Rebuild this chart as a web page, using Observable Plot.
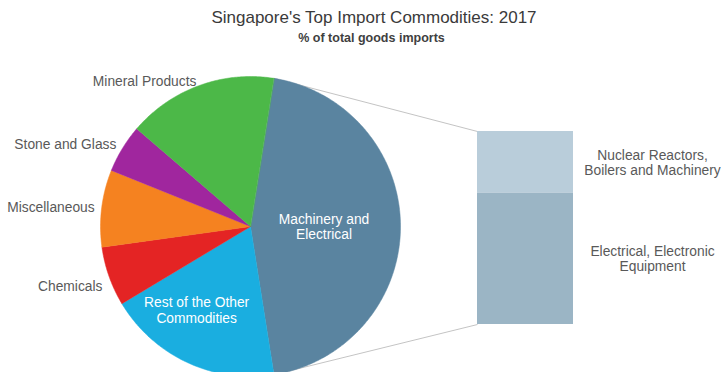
<!DOCTYPE html>
<html>
<head>
<meta charset="utf-8">
<script src="https://cdn.jsdelivr.net/npm/d3@7"></script>
<script src="https://cdn.jsdelivr.net/npm/@observablehq/plot@0.6"></script>
<style>
  html, body { margin: 0; padding: 0; background: #fff; overflow: hidden; }
  #wrap { width: 721px; height: 372px; position: relative; font-family: "Liberation Sans", Arial, sans-serif; }
  #title { position: absolute; left: 0; top: 8px; width: 748px; text-align: center; font-size: 17px; color: #3a3a3a; line-height: 20px; }
  #subtitle { position: absolute; left: 0; top: 31px; width: 743px; text-align: center; font-size: 12.5px; font-weight: bold; color: #3f3f3f; line-height: 15px; }
  #chart { position: absolute; left: 0; top: 50px; }
  #chart svg { overflow: visible; }
</style>
</head>
<body>
<div id="wrap">
  <div id="title">Singapore's Top Import Commodities: 2017</div>
  <div id="subtitle">% of total goods imports</div>
  <div id="chart"></div>
</div>
<script>
// ---- data (percent of total goods imports) ----
const pieCategories = ["Machinery and Electrical", "Rest of the Other Commodities", "Chemicals", "Miscellaneous", "Stone and Glass", "Mineral Products"];
const pieValues = [45.0, 18.9, 6.4, 8.3, 5.2, 16.2];
const pieColors = ["#5a84a0", "#1aaee0", "#e42424", "#f58220", "#a0269e", "#4cb848"];
const barCategories = ["Nuclear Reactors, Boilers and Machinery", "Electrical, Electronic Equipment"];
const barValues = [14.4, 30.6];
const barColors = ["#b9cdda", "#9bb5c5"];
const barLabels = ["Nuclear Reactors,\nBoilers and Machinery", "Electrical, Electronic\nEquipment"];
const pieLabels = ["Machinery and\nElectrical", "Rest of the Other\nCommodities", "Chemicals", "Miscellaneous", "Stone and Glass", "Mineral Products"];

// ---- layout (page pixel coordinates) ----
const W = 721, H = 372, TOP = 50;
const cx = 250, cy = 226, R = 150;
const startAngle = 9 * Math.PI / 180; // machinery slice starts just right of 12 o'clock
const barX1 = 477, barX2 = 573, barTop = 131, barBottom = 324;
const FS = 13.8;

const arcs = d3.pie().sort(null).value(d => d)
  .startAngle(startAngle).endAngle(startAngle + 2 * Math.PI)(pieValues);

const pt = (a, r) => [cx + r * Math.sin(a), cy - r * Math.cos(a)];

// polygons for slices
const slicePts = [];
arcs.forEach((a, i) => {
  const n = Math.max(4, Math.ceil((a.endAngle - a.startAngle) / 0.01));
  slicePts.push({cat: pieCategories[i], i, x: cx, y: cy});
  for (let k = 0; k <= n; k++) {
    const ang = a.startAngle + (a.endAngle - a.startAngle) * k / n;
    const [x, y] = pt(ang, R);
    slicePts.push({cat: pieCategories[i], i, x, y});
  }
});

// stacked bar for machinery breakdown
const barTotal = d3.sum(barValues);
const barScale = d3.scaleLinear().domain([0, barTotal]).range([barTop, barBottom]);
let acc = 0;
const barRows = barValues.map((v, i) => {
  const r = {cat: barCategories[i], label: barLabels[i], color: barColors[i], y1: barScale(acc), y2: barScale(acc + v)};
  acc += v; return r;
});

// connector lines from machinery slice edges to bar corners
const m = arcs[0];
const [tx, ty] = pt(m.startAngle, R);
const [bx, by] = pt(m.endAngle, R);
const links = [
  {x1: tx, y1: ty, x2: barX1, y2: barRows[0].y1},
  {x1: bx, y1: by, x2: barX1, y2: barRows[barRows.length - 1].y2}
];

// pie labels
const labelRows = arcs.map((a, i) => {
  const mid = (a.startAngle + a.endAngle) / 2;
  const inside = i < 2;
  const r = inside ? (i === 0 ? 0.49 : 0.66) * R : 157;
  const [x, y] = pt(mid, r);
  return {text: pieLabels[i], x, y, inside, i};
});
// nudges to match the picture
labelRows[1].x -= 12; labelRows[1].y -= 6;
labelRows[5].y += 2;
labelRows[2].y += 8;

const plot = Plot.plot({
  width: W, height: H - TOP,
  margin: 0,
  x: {type: "linear", domain: [0, W], range: [0, W], axis: null},
  y: {type: "linear", domain: [TOP, H], range: [0, H - TOP], axis: null},
  style: {fontFamily: "Liberation Sans, Arial, sans-serif", overflow: "visible"},
  marks: [
    Plot.link(links, {x1: "x1", y1: "y1", x2: "x2", y2: "y2", stroke: "#c4c4c4", strokeWidth: 1}),
    Plot.line(slicePts, {x: "x", y: "y", z: "cat", fill: d => pieColors[d.i], stroke: d => pieColors[d.i], strokeWidth: 0.5, curve: "linear-closed"}),
    Plot.rect(barRows, {x1: () => barX1, x2: () => barX2, y1: "y1", y2: "y2", fill: "color"}),
    Plot.text(barRows, {x: () => 652, y: d => (d.y1 + d.y2) / 2, text: "label", fill: "#595959", fontSize: FS, lineHeight: 1.1}),
    Plot.text(labelRows.filter(d => !d.inside), {x: "x", y: "y", text: "text", textAnchor: "end", fill: "#595959", fontSize: FS}),
    Plot.text(labelRows.filter(d => d.inside), {x: "x", y: "y", text: "text", fill: "white", fontSize: FS, lineHeight: 1.1})
  ]
});
document.getElementById("chart").appendChild(plot);
</script>
</body>
</html>
